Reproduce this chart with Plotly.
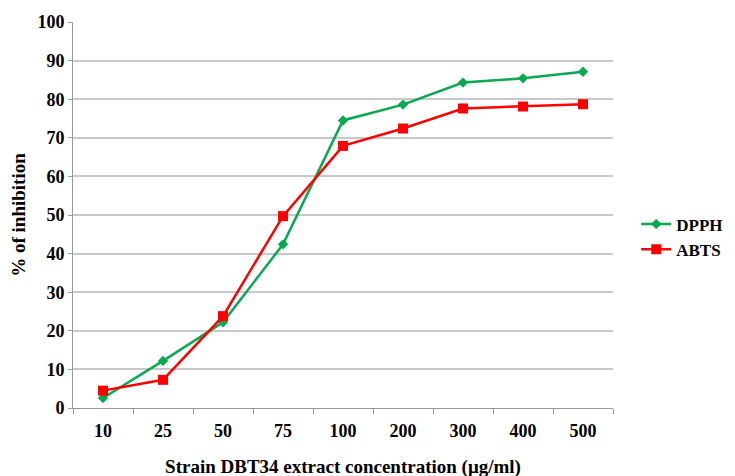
import plotly.graph_objects as go

categories = ["10", "25", "50", "75", "100", "200", "300", "400", "500"]
dpph = [2.6, 12.2, 22.2, 42.4, 74.5, 78.6, 84.3, 85.4, 87.1]
abts = [4.5, 7.3, 23.8, 49.7, 67.9, 72.4, 77.6, 78.1, 78.7]

font_family = "Liberation Serif, Times New Roman, serif"

fig = go.Figure()
fig.add_trace(go.Scatter(
    x=categories, y=dpph, name="<b>DPPH</b>", mode="lines+markers",
    line=dict(color="#0aa84f", width=2.5),
    marker=dict(symbol="diamond", size=8, color="#0aa84f"),
))
fig.add_trace(go.Scatter(
    x=categories, y=abts, name="<b>ABTS</b>", mode="lines+markers",
    line=dict(color="#ff0000", width=2.5),
    marker=dict(symbol="square", size=10, color="#ff0000"),
))

fig.update_layout(
    width=735, height=476,
    margin=dict(l=65, r=130, t=14, b=76, autoexpand=False),
    paper_bgcolor="white", plot_bgcolor="white",
    font=dict(family=font_family, size=18, color="black"),
    showlegend=True,
    legend=dict(x=1.043, y=0.443, xanchor="left", yanchor="middle",
                font=dict(family=font_family, size=17, color="black"),
                tracegroupgap=0, itemwidth=30),
    xaxis=dict(
        type="category", automargin=False,
        title=dict(text="<b>Strain DBT34 extract concentration (μg/ml)</b>",
                   font=dict(family=font_family, size=19), standoff=20),
        tickfont=dict(family=font_family, size=18),
        tickprefix="<b>", ticksuffix="</b>",
        tickson="boundaries", ticks="outside", ticklen=5,
        tickcolor="#999999", ticklabelstandoff=6,
        showline=True, linecolor="#999999", linewidth=1,
        showgrid=False, zeroline=False,
        range=[-0.5, 8.5],
    ),
    yaxis=dict(
        automargin=False,
        title=dict(text="<b>% of inhibition</b>",
                   font=dict(family=font_family, size=19), standoff=12),
        range=[0, 100], dtick=10,
        tickfont=dict(family=font_family, size=18),
        tickprefix="<b>", ticksuffix="</b>",
        ticks="outside", ticklen=4, tickcolor="#999999",
        showline=True, linecolor="#999999", linewidth=1,
        showgrid=True, gridcolor="#c8c8c8", gridwidth=1.5,
        zeroline=False,
    ),
)

fig.write_html("out.html")
